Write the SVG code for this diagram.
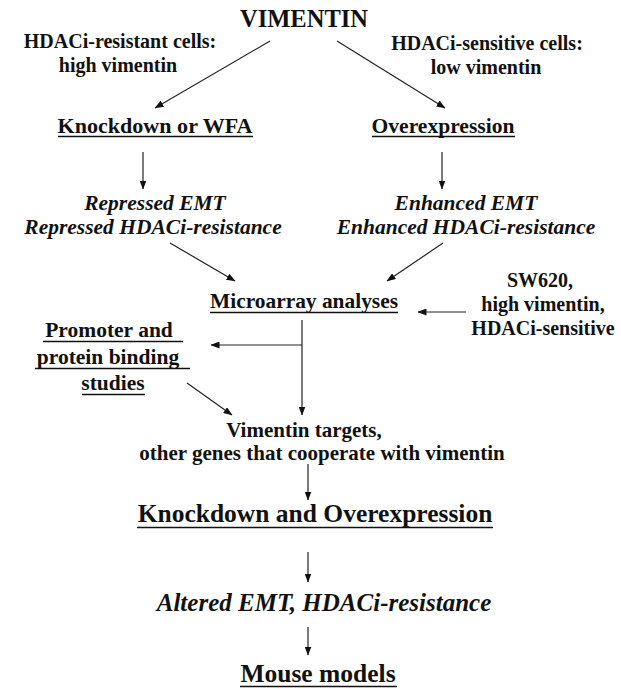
<svg xmlns="http://www.w3.org/2000/svg" width="621" height="689" viewBox="0 0 621 689">
<defs>
<marker id="ah" markerUnits="userSpaceOnUse" markerWidth="9" markerHeight="7" refX="8.5" refY="3.5" orient="auto">
<path d="M0,0 L9,3.5 L0,7 z" fill="#111"/>
</marker>
<style>
text{font-weight:bold;fill:#111;text-anchor:middle}
.it{font-style:italic}
.ul{stroke:#111;stroke-width:1.5}
.c{stroke:#222;stroke-width:1.2;fill:none;marker-end:url(#ah)}
</style>
</defs>
<rect width="621" height="689" fill="#fff"/>
<g font-family="'Liberation Serif', 'Times New Roman', 'DejaVu Serif', serif">

<g id="vimentin"><text x="304" y="27" font-size="25" textLength="128" lengthAdjust="spacingAndGlyphs">VIMENTIN</text></g>

<g id="label-resistant">
<text x="120" y="48" font-size="20">HDACi-resistant cells:</text>
<text x="118" y="72" font-size="20">high vimentin</text>
</g>
<g id="label-sensitive">
<text x="487" y="50" font-size="20">HDACi-sensitive cells:</text>
<text x="486" y="74" font-size="20">low vimentin</text>
</g>

<g id="knockdown-wfa">
<text x="155" y="133" font-size="21.5" textLength="195" lengthAdjust="spacingAndGlyphs">Knockdown  or WFA</text>
<line class="ul" x1="58" y1="136.5" x2="253" y2="136.5"/>
</g>
<g id="overexpression">
<text x="443" y="133" font-size="21.5" textLength="143" lengthAdjust="spacingAndGlyphs">Overexpression</text>
<line class="ul" x1="372" y1="136.5" x2="515" y2="136.5"/>
</g>

<g id="repressed">
<text class="it" x="155" y="210" font-size="21.5">Repressed EMT</text>
<text class="it" x="153" y="234" font-size="21.5">Repressed HDACi-resistance</text>
</g>
<g id="enhanced">
<text class="it" x="466" y="210" font-size="21.5">Enhanced EMT</text>
<text class="it" x="466" y="234" font-size="21.5">Enhanced HDACi-resistance</text>
</g>

<g id="microarray">
<text x="304" y="308" font-size="21" textLength="188" lengthAdjust="spacingAndGlyphs">Microarray  analyses</text>
<line class="ul" x1="210" y1="312.5" x2="398" y2="312.5"/>
</g>

<g id="sw620">
<text x="540" y="287" font-size="20">SW620,</text>
<text x="543" y="311" font-size="20">high vimentin,</text>
<text x="543" y="335" font-size="20">HDACi-sensitive</text>
</g>

<g id="promoter">
<text x="109" y="337" font-size="21.5">Promoter and</text>
<line class="ul" x1="43" y1="341.5" x2="183" y2="341.5"/>
<text x="108" y="364" font-size="21.5">protein  binding</text>
<line class="ul" x1="35" y1="368.5" x2="190" y2="368.5"/>
<text x="113" y="390" font-size="21.5">studies</text>
<line class="ul" x1="82" y1="394.5" x2="145" y2="394.5"/>
</g>

<g id="targets">
<text x="304" y="437" font-size="21">Vimentin  targets,</text>
<text x="322" y="460" font-size="21">other genes that cooperate with  vimentin</text>
</g>

<g id="knockdown-overexpression">
<text x="315" y="522" font-size="25.5">Knockdown and Overexpression</text>
<line class="ul" x1="137" y1="527.5" x2="493" y2="527.5"/>
</g>

<g id="altered">
<text class="it" x="324" y="611" font-size="25">Altered EMT, HDACi-resistance</text>
</g>

<g id="mouse">
<text x="318" y="682" font-size="25.5">Mouse models</text>
<line class="ul" x1="240" y1="686.5" x2="397" y2="686.5"/>
</g>
</g>

<g id="connectors">
<line class="c" x1="270" y1="41" x2="155" y2="108"/>
<line class="c" x1="337" y1="41" x2="445" y2="108"/>
<line class="c" x1="143" y1="152" x2="143" y2="189"/>
<line class="c" x1="442" y1="152" x2="442" y2="189"/>
<line class="c" x1="170" y1="243" x2="235" y2="281"/>
<line class="c" x1="443" y1="243" x2="387" y2="281"/>
<line class="c" x1="466" y1="312" x2="418" y2="312"/>
<line class="c" x1="302" y1="320" x2="302" y2="415"/>
<line class="c" x1="302" y1="345" x2="211" y2="345"/>
<line class="c" x1="187" y1="383" x2="232" y2="415"/>
<line class="c" x1="308" y1="464" x2="308" y2="500"/>
<line class="c" x1="308" y1="552" x2="308" y2="582"/>
<line class="c" x1="308" y1="627" x2="308" y2="655"/>
</g>
</svg>
